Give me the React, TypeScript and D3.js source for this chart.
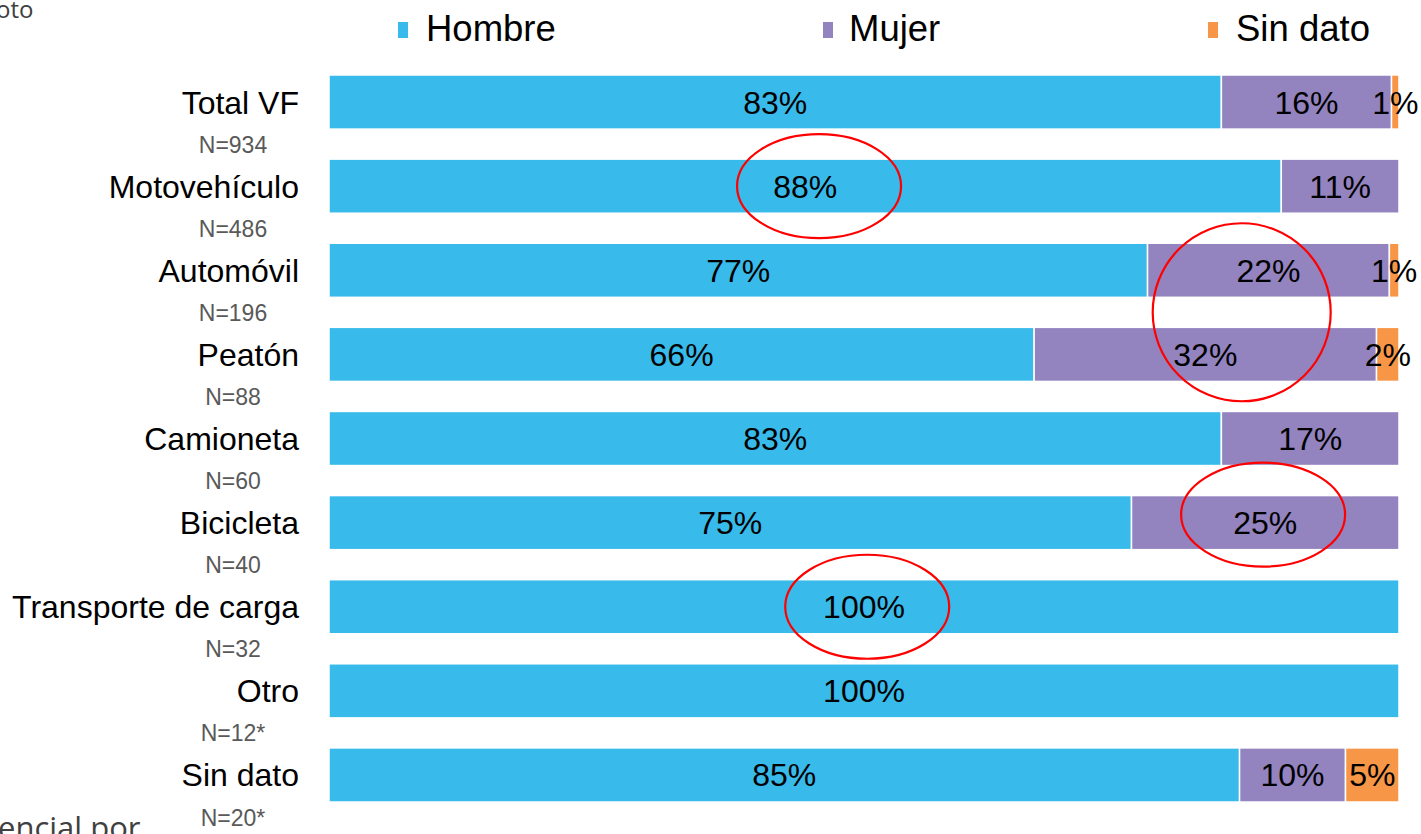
import React from "react";
import * as d3 from "d3";

const categories = ["Total VF", "Motovehículo", "Automóvil", "Peatón", "Camioneta", "Bicicleta", "Transporte de carga", "Otro", "Sin dato"];
const nLabels = ["N=934", "N=486", "N=196", "N=88", "N=60", "N=40", "N=32", "N=12*", "N=20*"];
const hombre = [83.4, 89.0, 76.5, 65.9, 83.4, 75.0, 100, 100, 85.1];
const mujer = [15.9, 11.0, 22.6, 32.0, 16.6, 25.0, 0, 0, 9.9];
const sinDato = [0.7, 0, 0.9, 2.1, 0, 0, 0, 0, 5.0];
const hombreLabels = ["83%", "88%", "77%", "66%", "83%", "75%", "100%", "100%", "85%"];
const mujerLabels = ["16%", "11%", "22%", "32%", "17%", "25%", "", "", "10%"];
const sinDatoLabels = ["1%", "", "1%", "2%", "", "", "", "", "5%"];
const seriesNames = ["Hombre", "Mujer", "Sin dato"];
const colors = ["#38BAEA", "#9383BF", "#F79646"];
const highlights = [
  { cat: "Motovehículo", at: 45.8, rx: 82, ry: 52, dy: 0 },
  { cat: "Automóvil", at: 85.3, rx: 89, ry: 89, dy: 42 },
  { cat: "Bicicleta", at: 87.3, rx: 82, ry: 52, dy: -8 },
  { cat: "Transporte de carga", at: 50.3, rx: 82, ry: 52, dy: 0 },
];

export default function App() {
  const W = 1421, H = 834;
  const x = d3.scaleLinear().domain([0, 100]).range([329, 1399]);
  const y = d3.scaleBand<string>().domain(categories).range([75, 802]).paddingInner(0.357).paddingOuter(0);
  const bw = y.bandwidth();
  const seriesVals = [hombre, mujer, sinDato];
  const seriesLabels = [hombreLabels, mujerLabels, sinDatoLabels];
  const font = "'Liberation Sans', Arial, sans-serif";

  return (
    <svg width={W} height={H} style={{ position: "absolute", left: 0, top: 0, background: "#fff" }}>
      <text x={-4} y={18} fontFamily="'Open Sans', sans-serif" fontSize={24} fill="#404040">oto</text>
      <text x={-2} y={839} fontFamily="'Open Sans', sans-serif" fontSize={31} fill="#404040">encial por</text>

      {[{ sx: 398, tx: 426 }, { sx: 823, tx: 849 }, { sx: 1208, tx: 1236 }].map((p, i) => (
        <g key={i}>
          <rect x={p.sx} y={22} width={10} height={16} fill={colors[i]} />
          <text x={p.tx} y={41} fontFamily={font} fontSize={36.5} fill="#000">{seriesNames[i]}</text>
        </g>
      ))}

      {categories.map((c, ci) => {
        const y0 = y(c)!;
        let acc = 0;
        return (
          <g key={c}>
            <text x={299} y={y0 + bw / 2} dy="0.36em" textAnchor="end" fontFamily={font} fontSize={32} fill="#000">{c}</text>
            <text x={233} y={y0 + bw + 23.5} textAnchor="middle" fontFamily={font} fontSize={23} fill="#595959">{nLabels[ci]}</text>
            {seriesVals.map((vals, si) => {
              const v = vals[ci];
              const start = acc;
              acc += v;
              if (v <= 0) return null;
              return (
                <rect key={si} x={x(start)} y={y0} width={x(start + v) - x(start)} height={bw} fill={colors[si]} stroke="#fff" strokeWidth={1.5} />
              );
            })}
          </g>
        );
      })}

      {categories.map((c, ci) => {
        const y0 = y(c)!;
        let acc = 0;
        return (
          <g key={c + "-l"}>
            {seriesVals.map((vals, si) => {
              const v = vals[ci];
              const start = acc;
              acc += v;
              const lab = seriesLabels[si][ci];
              if (!lab) return null;
              return (
                <text key={si} x={(x(start) + x(start + v)) / 2} y={y0 + bw / 2} dy="0.36em" textAnchor="middle" fontFamily={font} fontSize={32} fill="#000">{lab}</text>
              );
            })}
          </g>
        );
      })}

      {highlights.map((h, i) => (
        <ellipse key={i} cx={x(h.at)} cy={y(h.cat)! + bw / 2 + h.dy} rx={h.rx} ry={h.ry} fill="none" stroke="#FF0000" strokeWidth={2.2} />
      ))}
    </svg>
  );
}
